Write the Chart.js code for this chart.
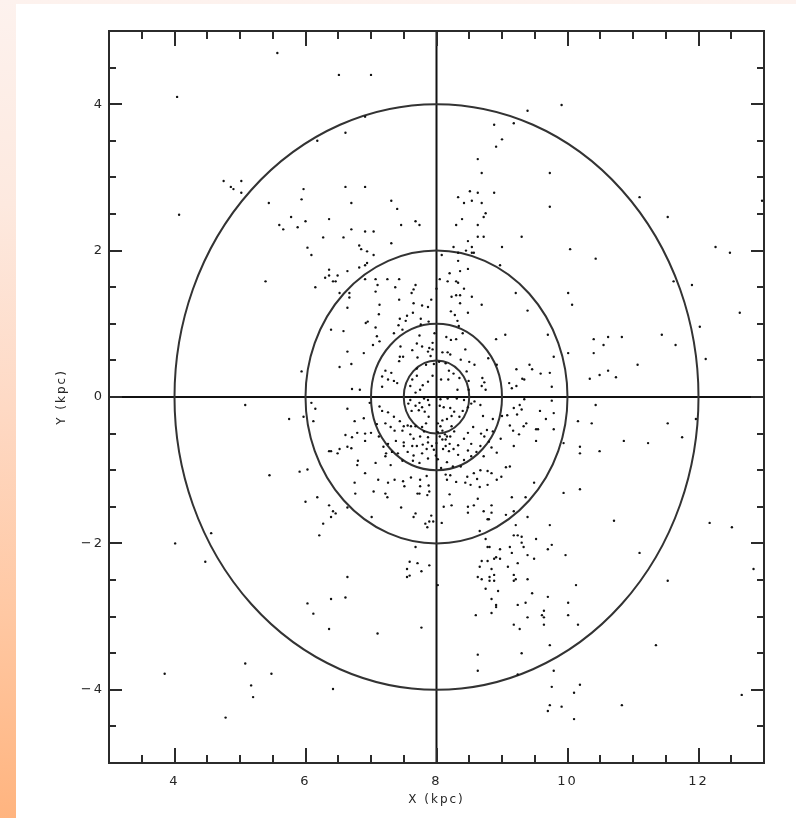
<!DOCTYPE html>
<html><head><meta charset="utf-8">
<script src="https://cdn.jsdelivr.net/npm/chart.js@4"></script>
<style>
html,body{margin:0;padding:0;}
body{width:796px;height:818px;overflow:hidden;position:relative;
background:linear-gradient(to bottom,#fdf2ee 0%,#fde9df 25%,#fed9c4 50%,#ffc8a3 75%,#ffb47f 100%);}
#panel{position:absolute;left:16px;top:4px;right:0;bottom:0;background:#fff;}
#wrap{position:absolute;left:0;top:0;width:796px;height:818px;}
</style></head>
<body>
<div id="panel"></div>
<div id="wrap"><canvas id="c" width="796" height="818"></canvas></div>
<script>
// ---- data (kpc) ----
const xTickLabels = [4, 6, 8, 10, 12];
const yTickLabels = [-4, -2, 0, 2, 4];
const minorStep = 0.5;
const rings = [4, 2, 1, 0.5];
const center = [8, 0];

const upperLeft = [[5.57,4.70],[6.51,4.40],[7.00,4.40],[4.04,4.10],[6.91,3.83],[6.61,3.61],[6.18,3.50],[4.75,2.95],[4.86,2.87],[4.90,2.84],[5.02,2.95],[5.02,2.79],[4.07,2.49],[5.44,2.65],[5.97,2.84],[5.94,2.70],[6.61,2.87],[6.91,2.87],[6.70,2.65],[7.31,2.68],[7.40,2.57],[5.78,2.46],[5.60,2.35],[5.66,2.29],[5.88,2.32],[6.00,2.40],[6.36,2.43],[6.27,2.18],[6.58,2.18],[6.70,2.29],[6.91,2.26],[7.04,2.26],[7.46,2.35],[7.68,2.40],[7.74,2.35],[7.31,2.10],[6.03,2.04],[6.09,1.94],[6.82,2.07],[6.85,2.02],[6.94,1.99],[7.04,1.94],[6.82,1.77],[6.91,1.80],[6.94,1.83],[6.64,1.72],[6.36,1.74],[6.30,1.63],[6.36,1.66],[6.49,1.66],[6.42,1.58],[6.46,1.58],[5.39,1.58],[6.15,1.50],[6.52,1.42],[6.67,1.42],[6.67,1.36],[6.91,1.61],[7.07,1.61],[7.25,1.61],[7.43,1.61],[7.10,1.53],[7.07,1.44],[7.37,1.50],[7.68,1.53],[7.65,1.47],[7.62,1.42],[7.43,1.33],[7.92,1.33],[6.64,1.22],[6.39,0.92],[6.58,0.90],[6.64,0.62],[6.52,0.41],[5.94,0.35]];

const upperRight = [[9.91,3.99],[9.39,3.91],[9.18,3.74],[8.88,3.72],[9.00,3.52],[8.91,3.42],[8.63,3.25],[8.69,3.06],[9.73,3.06],[8.33,2.73],[8.51,2.81],[8.42,2.65],[8.54,2.68],[8.63,2.79],[8.69,2.65],[8.88,2.79],[8.75,2.51],[8.72,2.46],[9.73,2.60],[11.10,2.73],[8.39,2.43],[8.30,2.35],[8.63,2.35],[11.53,2.46],[8.63,2.19],[8.72,2.19],[8.48,2.13],[9.30,2.19],[8.26,2.05],[8.54,2.05],[9.00,2.05],[8.08,1.94],[8.33,1.97],[8.45,2.00],[8.54,1.97],[8.57,1.97],[10.04,2.02],[10.43,1.89],[12.26,2.05],[12.48,1.97],[12.97,2.68],[8.33,1.86],[8.97,1.80],[8.48,1.75],[8.36,1.72],[8.20,1.69],[8.05,1.61],[8.17,1.58],[8.30,1.58],[8.33,1.56],[8.42,1.48],[8.00,1.48],[8.30,1.39],[8.36,1.39],[8.23,1.37],[8.54,1.37],[9.21,1.42],[10.01,1.42],[11.62,1.58],[11.90,1.53],[10.07,1.26],[12.63,1.15],[12.02,0.96],[11.44,0.85],[11.65,0.71],[12.11,0.52],[10.40,0.79],[10.62,0.82],[10.83,0.82],[10.55,0.71],[10.40,0.60],[10.01,0.60],[9.79,0.55],[9.70,0.85],[11.07,0.44],[9.73,0.33],[10.62,0.36],[10.49,0.30],[10.74,0.27],[10.34,0.25],[9.59,0.32],[9.46,0.38],[9.76,0.14],[9.42,0.44]];

const lowerLeft = [[5.08,-0.11],[5.75,-0.30],[5.97,-0.27],[6.09,-0.08],[6.15,-0.16],[6.12,-0.33],[6.64,-0.16],[6.61,-0.52],[6.36,-0.74],[6.39,-0.74],[6.49,-0.77],[6.52,-0.71],[6.64,-0.68],[5.45,-1.07],[5.91,-1.02],[6.03,-0.99],[6.00,-1.43],[6.18,-1.37],[6.36,-1.48],[6.42,-1.56],[6.46,-1.59],[6.39,-1.64],[6.27,-1.73],[6.21,-1.89],[6.64,-1.51],[7.01,-1.64],[7.46,-1.51],[7.68,-1.59],[7.65,-1.64],[7.92,-1.62],[7.83,-1.73],[7.89,-1.70],[7.95,-1.70],[7.86,-1.78],[7.86,-1.34],[7.89,-1.29],[7.22,-1.32],[7.25,-1.37],[7.71,-1.32],[7.74,-1.32],[7.04,-1.29],[6.76,-1.32],[7.68,-2.05],[7.59,-2.25],[7.71,-2.27],[7.89,-2.30],[7.77,-2.38],[7.55,-2.35],[7.59,-2.44],[7.55,-2.46],[6.64,-2.46],[6.61,-2.74],[6.39,-2.76],[6.03,-2.82],[6.12,-2.96],[6.36,-3.17],[7.10,-3.23],[7.77,-3.15],[4.01,-2.00],[4.56,-1.86],[4.47,-2.25],[3.85,-3.78],[5.08,-3.64],[5.48,-3.78],[5.17,-3.94],[5.20,-4.10],[6.42,-3.99],[4.78,-4.38]];

const lowerRight = [[9.58,-0.19],[9.79,-0.22],[9.76,-0.05],[9.52,-0.44],[9.55,-0.44],[9.79,-0.44],[9.67,-0.30],[9.52,-0.60],[9.49,-1.17],[10.16,-0.33],[10.37,-0.36],[10.43,-0.11],[9.94,-0.63],[10.19,-0.68],[10.19,-0.77],[10.49,-0.74],[10.86,-0.60],[11.23,-0.63],[11.53,-0.36],[11.75,-0.55],[11.96,-0.30],[9.94,-1.31],[10.19,-1.26],[10.71,-1.69],[12.17,-1.72],[12.51,-1.78],[11.10,-2.13],[11.53,-2.51],[12.84,-2.35],[8.02,-2.57],[11.35,-3.39],[12.66,-4.07],[10.83,-4.21],[8.11,-1.50],[8.23,-1.48],[8.20,-1.33],[8.48,-1.50],[8.48,-1.58],[8.57,-1.48],[8.63,-1.39],[8.72,-1.56],[8.84,-1.48],[8.84,-1.58],[8.80,-1.67],[8.78,-1.67],[9.06,-1.61],[9.18,-1.56],[9.15,-1.37],[9.36,-1.37],[8.08,-1.72],[8.66,-1.83],[8.75,-1.94],[9.21,-1.75],[9.39,-1.64],[9.18,-1.89],[9.24,-1.89],[9.30,-1.91],[8.78,-2.05],[8.81,-2.05],[8.97,-2.08],[9.30,-1.99],[9.33,-2.05],[9.52,-1.94],[9.73,-1.75],[9.76,-2.02],[9.70,-2.08],[9.97,-2.16],[8.69,-2.24],[8.78,-2.24],[8.88,-2.21],[8.91,-2.19],[8.97,-2.21],[9.15,-2.13],[9.12,-2.05],[9.24,-2.27],[9.39,-2.16],[9.49,-2.21],[8.66,-2.32],[8.84,-2.35],[9.09,-2.32],[8.63,-2.46],[8.69,-2.49],[8.81,-2.46],[8.88,-2.43],[8.81,-2.51],[8.88,-2.51],[9.18,-2.43],[9.21,-2.49],[9.18,-2.51],[9.39,-2.49],[8.75,-2.62],[8.94,-2.65],[8.84,-2.76],[9.46,-2.68],[9.70,-2.73],[10.13,-2.57],[8.91,-2.84],[8.91,-2.87],[8.84,-2.95],[8.60,-2.98],[9.24,-2.84],[9.36,-2.81],[9.39,-3.01],[9.64,-2.92],[9.61,-2.98],[9.64,-3.01],[9.64,-3.11],[10.01,-2.81],[10.01,-2.98],[9.18,-3.11],[9.27,-3.17],[10.16,-3.11],[9.73,-3.39],[9.30,-3.50],[8.63,-3.52],[8.63,-3.74],[9.24,-3.79],[9.79,-3.74],[9.76,-3.96],[10.19,-3.93],[10.10,-4.04],[9.73,-4.21],[9.70,-4.29],[9.91,-4.23],[10.10,-4.40]];

const core = [[7.13,1.26],[7.65,1.28],[7.78,1.25],[7.87,1.23],[8.36,1.28],[8.69,1.26],[9.39,1.18],[8.22,1.17],[8.28,1.12],[8.48,1.15],[7.12,1.13],[7.55,1.11],[7.64,1.15],[7.44,1.07],[7.76,1.07],[6.95,1.03],[6.92,1.01],[7.07,0.95],[7.42,0.98],[7.53,1.04],[7.76,0.99],[7.88,1.03],[8.32,1.04],[8.34,0.97],[8.40,0.87],[7.35,0.87],[7.48,0.92],[7.09,0.83],[7.03,0.71],[7.13,0.76],[7.45,0.69],[7.74,0.84],[7.94,0.74],[7.97,0.87],[8.15,0.82],[8.22,0.78],[8.30,0.79],[8.91,0.79],[9.05,0.85],[7.89,0.67],[7.78,0.69],[8.44,0.65],[6.89,0.60],[7.44,0.55],[7.49,0.55],[7.43,0.49],[7.63,0.64],[7.70,0.73],[7.87,0.62],[7.94,0.65],[8.09,0.61],[8.17,0.61],[8.21,0.58],[8.37,0.51],[8.50,0.48],[8.58,0.44],[8.79,0.53],[8.92,0.44],[9.22,0.38],[7.91,0.56],[7.71,0.54],[7.84,0.44],[7.70,0.39],[7.96,0.45],[8.04,0.48],[8.14,0.46],[8.19,0.36],[8.26,0.32],[8.18,0.24],[8.46,0.35],[8.49,0.22],[8.35,0.26],[8.32,0.10],[8.49,0.10],[8.07,0.24],[7.94,0.29],[7.87,0.21],[7.70,0.29],[7.75,0.10],[7.79,0.16],[7.63,0.24],[7.60,0.15],[7.31,0.33],[7.17,0.28],[7.17,0.14],[7.26,0.24],[7.35,0.22],[7.40,0.19],[7.22,0.36],[6.83,0.10],[6.71,0.11],[8.70,0.26],[8.73,0.20],[8.75,0.10],[8.69,0.15],[9.11,0.19],[9.15,0.12],[9.22,0.15],[9.31,0.25],[9.34,0.24],[9.34,-0.03],[9.27,-0.11],[9.18,-0.15],[9.30,-0.17],[9.23,-0.24],[9.08,-0.25],[9.00,-0.26],[8.86,-0.30],[8.71,-0.26],[8.67,-0.11],[8.58,-0.06],[8.53,-0.09],[8.42,-0.04],[8.31,-0.02],[8.17,-0.02],[8.06,-0.03],[7.87,-0.04],[7.81,-0.02],[7.68,0.06],[7.60,-0.04],[7.57,-0.09],[7.68,-0.12],[7.74,-0.08],[7.78,-0.14],[7.82,-0.20],[7.73,-0.18],[7.62,-0.19],[7.89,-0.11],[8.05,-0.12],[8.11,-0.14],[8.21,-0.15],[8.27,-0.20],[8.40,-0.19],[8.48,-0.14],[8.35,-0.27],[8.23,-0.26],[8.16,-0.30],[8.09,-0.32],[8.02,-0.36],[8.06,-0.40],[8.09,-0.46],[8.13,-0.51],[8.16,-0.54],[8.02,-0.48],[8.05,-0.54],[8.09,-0.58],[8.14,-0.58],[8.00,-0.63],[7.93,-0.67],[7.96,-0.72],[7.99,-0.80],[8.02,-0.85],[7.88,-0.27],[7.84,-0.36],[7.78,-0.41],[7.68,-0.40],[7.61,-0.40],[7.56,-0.39],[7.50,-0.40],[7.44,-0.33],[7.35,-0.27],[7.26,-0.21],[7.17,-0.19],[7.13,-0.13],[6.98,-0.08],[6.89,-0.29],[6.75,-0.33],[6.79,-0.49],[6.91,-0.50],[7.00,-0.49],[7.09,-0.37],[7.22,-0.36],[7.30,-0.41],[7.36,-0.46],[7.48,-0.46],[7.60,-0.51],[7.65,-0.57],[7.75,-0.54],[7.81,-0.47],[7.87,-0.55],[7.87,-0.62],[7.79,-0.65],[7.70,-0.67],[7.63,-0.67],[7.50,-0.62],[7.50,-0.67],[7.38,-0.60],[7.26,-0.64],[7.19,-0.68],[7.12,-0.54],[6.91,-0.60],[7.23,-0.77],[7.22,-0.81],[7.32,-0.75],[7.41,-0.77],[7.56,-0.75],[7.65,-0.80],[7.78,-0.77],[7.85,-0.71],[7.87,-0.84],[7.74,-0.90],[7.64,-0.87],[7.48,-0.87],[7.30,-0.93],[7.07,-0.90],[6.80,-0.87],[6.79,-0.93],[6.91,-1.04],[6.75,-1.17],[7.11,-1.13],[7.26,-1.17],[7.36,-1.13],[7.49,-1.15],[7.61,-1.10],[7.75,-1.13],[7.85,-1.08],[7.75,-1.22],[7.51,-1.22],[7.88,-1.21],[8.16,-1.13],[8.21,-1.07],[8.30,-1.16],[8.44,-1.17],[8.47,-1.09],[8.57,-1.04],[8.67,-1.00],[8.78,-1.01],[8.84,-1.04],[8.92,-1.13],[8.99,-1.09],[9.06,-0.96],[9.12,-0.95],[9.18,-0.67],[9.17,-0.46],[9.12,-0.39],[8.98,-0.57],[8.86,-0.47],[8.77,-0.45],[8.68,-0.50],[8.56,-0.41],[8.48,-0.49],[8.42,-0.57],[8.33,-0.66],[8.26,-0.71],[8.21,-0.54],[8.27,-0.47],[8.23,-0.40],[8.20,-0.64],[8.14,-0.67],[8.10,-0.71],[8.19,-0.74],[8.33,-0.79],[8.42,-0.86],[8.53,-0.81],[8.61,-0.75],[8.67,-0.67],[8.72,-0.81],[8.53,-0.64],[8.48,-0.73],[8.37,-0.95],[8.25,-0.95],[8.16,-0.89],[8.07,-0.97],[8.14,-1.06],[8.84,-0.69],[8.80,-0.61],[8.73,-0.54],[8.92,-0.76],[8.52,-1.20],[8.62,-1.12],[6.70,-0.70],[6.71,-0.55],[9.37,-0.36],[9.26,-0.51],[9.33,-0.40],[6.70,0.45],[8.78,-1.20],[8.66,-1.23]];

const toPts = a => a.map(p => ({x: p[0], y: p[1]}));
const groups = [upperLeft, upperRight, lowerLeft, lowerRight, core];

const AXC = '#2b2b2b';
const overlay = {
  id: 'overlay',
  beforeDraw(chart) { chart.ctx.letterSpacing = '2px'; },
  afterDraw(chart) { chart.ctx.letterSpacing = '0px'; },
  beforeDatasetsDraw(chart) {
    const {ctx, chartArea: a, scales: {x, y}} = chart;
    ctx.save();
    ctx.beginPath(); ctx.rect(a.left, a.top, a.right - a.left, a.bottom - a.top); ctx.clip();
    ctx.strokeStyle = '#111'; ctx.lineWidth = 2;
    const cx = x.getPixelForValue(center[0]), cy = y.getPixelForValue(center[1]);
    ctx.beginPath(); ctx.moveTo(cx, a.top); ctx.lineTo(cx, a.bottom);
    ctx.moveTo(a.left, cy); ctx.lineTo(a.right, cy); ctx.stroke();
    ctx.strokeStyle = '#333'; ctx.lineWidth = 2;
    rings.forEach(r => {
      const rx = Math.abs(x.getPixelForValue(center[0] + r) - cx);
      const ry = Math.abs(y.getPixelForValue(center[1] + r) - cy);
      ctx.beginPath(); ctx.ellipse(cx, cy, rx, ry, 0, 0, Math.PI * 2); ctx.stroke();
    });
    ctx.restore();
  },
  afterDatasetsDraw(chart) {
    const {ctx, chartArea: a, scales: {x, y}} = chart;
    ctx.save();
    ctx.strokeStyle = AXC; ctx.lineWidth = 2;
    ctx.strokeRect(a.left, a.top, a.right - a.left, a.bottom - a.top);
    ctx.beginPath();
    for (let v = x.min + minorStep; v < x.max - 1e-9; v += minorStep) {
      const major = xTickLabels.some(t => Math.abs(t - v) < 1e-9);
      const L = major ? 15 : 8, px = Math.round(x.getPixelForValue(v));
      ctx.moveTo(px, a.bottom); ctx.lineTo(px, a.bottom - L);
      ctx.moveTo(px, a.top); ctx.lineTo(px, a.top + L);
    }
    for (let v = y.min + minorStep; v < y.max - 1e-9; v += minorStep) {
      const major = yTickLabels.some(t => Math.abs(t - v) < 1e-9);
      const L = major ? 13 : 7, py = Math.round(y.getPixelForValue(v));
      ctx.moveTo(a.left, py); ctx.lineTo(a.left + L, py);
      ctx.moveTo(a.right, py); ctx.lineTo(a.right - L, py);
    }
    ctx.stroke();
    ctx.restore();
  }
};

const fmt = v => (v < 0 ? '\u2212' + Math.abs(v) : '' + v);
const tickFont = {family: "'DejaVu Sans', 'Liberation Sans', sans-serif", size: 13};
const titleFont = {family: "'DejaVu Sans', 'Liberation Sans', sans-serif", size: 12};

new Chart(document.getElementById('c'), {
  type: 'scatter',
  data: {datasets: groups.map(g => ({data: toPts(g), pointRadius: 1.2, pointHoverRadius: 1.2, backgroundColor: '#111', borderWidth: 0}))},
  options: {
    responsive: false, animation: false, devicePixelRatio: 1,
    layout: {padding: {top: 31, right: 32, left: 0, bottom: 0}},
    plugins: {legend: {display: false}, tooltip: {enabled: false}},
    scales: {
      x: {type: 'linear', min: 3, max: 13,
        afterBuildTicks: s => { s.ticks = xTickLabels.map(v => ({value: v})); },
        ticks: {color: '#262626', font: tickFont, padding: 11, maxRotation: 0, callback: fmt},
        grid: {display: false, drawTicks: false}, border: {display: false},
        title: {display: true, text: 'X (kpc)', color: '#262626', font: titleFont, padding: {top: 0, bottom: 11}},
        afterFit: s => { s.height = 55; }},
      y: {type: 'linear', min: -5, max: 5,
        afterBuildTicks: s => { s.ticks = yTickLabels.map(v => ({value: v})); },
        ticks: {color: '#262626', font: tickFont, padding: 5, callback: fmt},
        grid: {display: false, drawTicks: false}, border: {display: false},
        title: {display: true, text: 'Y (kpc)', color: '#262626', font: titleFont, padding: {top: 55, bottom: 0}},
        afterFit: s => { s.width = 109; }}
    }
  },
  plugins: [overlay]
});
</script>
</body></html>
